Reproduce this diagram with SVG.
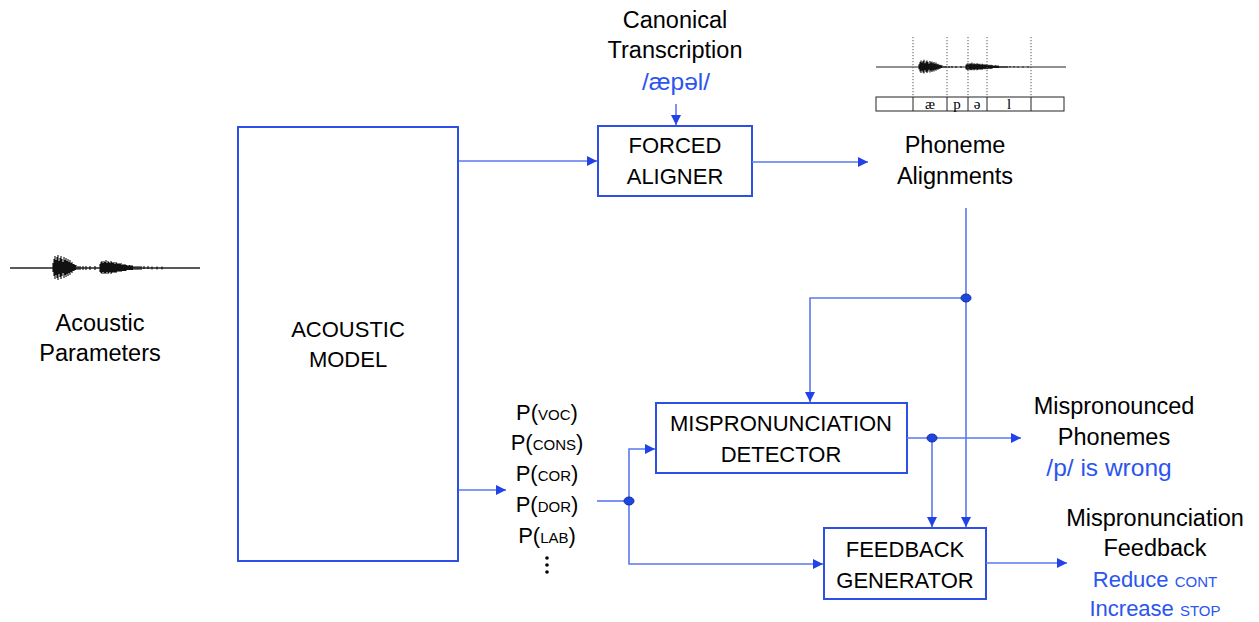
<svg xmlns="http://www.w3.org/2000/svg" xmlns:xlink="http://www.w3.org/1999/xlink" width="1259" height="622" viewBox="0 0 1259 622">
<style>
  .box{fill:#fff;stroke:#2d4fe6;stroke-width:2}
  .t{font-family:"Liberation Sans",Arial,sans-serif;font-size:22px;fill:#000;text-anchor:middle}
  .m{font-size:23.5px}
  .b{fill:#2a55ee}
  .bb{font-size:24.5px}
  .sc{font-size:15px}
  .c{fill:none;stroke:#5a78f0;stroke-width:1.6}
  .dot{fill:#1f45e0;stroke:#10309a;stroke-width:1}
  .wave{fill:none;stroke:#111;stroke-width:1.1}
  .cell{fill:#fff;stroke:#222;stroke-width:1}
  .dl{stroke:#555;stroke-width:1;stroke-dasharray:1.2 1.8}
  .ph{font-family:"Liberation Serif","Times New Roman",serif;font-size:15px;fill:#000;text-anchor:middle}
</style>
<defs>
  <marker id="ah" viewBox="0 0 10 10" refX="10" refY="5" markerWidth="11" markerHeight="10" markerUnits="userSpaceOnUse" orient="auto">
    <path d="M0 0 L10 5 L0 10 z" fill="#2142e8"/>
  </marker>
  <g id="wf">
    <path d="M10 0 H200" stroke="#222" stroke-width="1.6" fill="none"/>
    <path class="wave" d="M53 -5V4 M54 -9V8 M55 -12V11 M56 -8V7 M57 -11V10 M58 -13V12 M59 -7V6 M60 -10V9 M61 -12V11 M62 -9V8 M63 -6V5 M64 -11V10 M65 -8V7 M66 -10V9 M67 -7V6 M68 -9V8 M69 -6V5 M70 -8V7 M71 -5V4 M72 -6V5 M73 -4V3 M74 -4V3 M75 -3V2 M76 -3V2 M78 -2V2 M80 -2V2 M83 -2V2 M86 -2V2 M90 -2V2 M95 -2V2
    M100 -4V4 M101 -6V5 M102 -7V6 M103 -5V4 M104 -7V6 M105 -6V5 M106 -8V6 M107 -5V4 M108 -7V6 M109 -6V5 M110 -5V4 M111 -7V6 M112 -6V5 M113 -5V4 M114 -6V5 M115 -4V4 M116 -6V5 M117 -5V4 M118 -4V3 M119 -5V4 M120 -4V3 M121 -5V4 M122 -3V3 M123 -4V3 M124 -3V3 M125 -4V3 M126 -3V3 M127 -3V2 M128 -2V2 M129 -3V2 M130 -3V2 M131 -2V2 M132 -3V2 M133 -2V2 M135 -2V2 M137 -2V2 M139 -2V2 M141 -2V2 M144 -2V1 M148 -2V1 M152 -1.5V1.5 M157 -1.5V1.5 M162 -1.5V1.5"/>
  </g>
</defs>

<g id="acoustic-parameters">
  <use xlink:href="#wf" transform="translate(0,268)"/>
  <text class="t m" x="100" y="331">Acoustic</text>
  <text class="t m" x="100" y="361">Parameters</text>
</g>

<g id="acoustic-model">
  <rect class="box" x="238" y="127" width="220" height="434"/>
  <text class="t" x="348" y="337">ACOUSTIC</text>
  <text class="t" x="348" y="367">MODEL</text>
</g>

<g id="canonical-transcription">
  <text class="t m" x="675" y="28">Canonical</text>
  <text class="t m" x="675" y="58">Transcription</text>
  <text class="t b bb" x="676" y="90">/æpəl/</text>
</g>

<g id="forced-aligner">
  <rect class="box" x="598" y="126" width="154" height="70"/>
  <text class="t" x="675" y="153">FORCED</text>
  <text class="t" x="675" y="184">ALIGNER</text>
</g>

<g id="phoneme-alignments">
  <use xlink:href="#wf" transform="translate(866,67) scale(1,0.55)"/>
  <line class="dl" x1="913" y1="37" x2="913" y2="97"/>
  <line class="dl" x1="947" y1="37" x2="947" y2="97"/>
  <line class="dl" x1="968" y1="37" x2="968" y2="97"/>
  <line class="dl" x1="987" y1="37" x2="987" y2="97"/>
  <line class="dl" x1="1031" y1="37" x2="1031" y2="97"/>
  <rect class="cell" x="876" y="97" width="188" height="14"/>
  <path d="M913 97V111 M947 97V111 M968 97V111 M987 97V111 M1031 97V111" stroke="#222" stroke-width="1"/>
  <text class="ph" x="930" y="109">æ</text>
  <text class="ph" x="957" y="109">p</text>
  <text class="ph" x="977" y="109">ə</text>
  <text class="ph" x="1009" y="109">l</text>
  <text class="t m" x="955" y="153">Phoneme</text>
  <text class="t m" x="955" y="184">Alignments</text>
</g>

<g id="phonological-features">
  <text class="t" x="547" y="420">P(<tspan class="sc">VOC</tspan>)</text>
  <text class="t" x="547" y="450">P(<tspan class="sc">CONS</tspan>)</text>
  <text class="t" x="547" y="481">P(<tspan class="sc">COR</tspan>)</text>
  <text class="t" x="547" y="512">P(<tspan class="sc">DOR</tspan>)</text>
  <text class="t" x="547" y="543">P(<tspan class="sc">LAB</tspan>)</text>
  <circle cx="547" cy="558" r="1.8" fill="#000"/>
  <circle cx="547" cy="565" r="1.8" fill="#000"/>
  <circle cx="547" cy="572" r="1.8" fill="#000"/>
</g>

<g id="mispronunciation-detector">
  <rect class="box" x="656" y="403" width="251" height="70"/>
  <text class="t" x="781" y="431">MISPRONUNCIATION</text>
  <text class="t" x="781" y="462">DETECTOR</text>
</g>

<g id="mispronounced-phonemes">
  <text class="t m" x="1114" y="414">Mispronounced</text>
  <text class="t m" x="1114" y="445">Phonemes</text>
  <text class="t b bb" x="1109" y="476">/p/ is wrong</text>
</g>

<g id="feedback-generator">
  <rect class="box" x="824" y="528" width="162" height="71"/>
  <text class="t" x="905" y="557">FEEDBACK</text>
  <text class="t" x="905" y="588">GENERATOR</text>
</g>

<g id="mispronunciation-feedback">
  <text class="t m" x="1155" y="526">Mispronunciation</text>
  <text class="t m" x="1155" y="556">Feedback</text>
  <text class="t b" x="1155" y="587">Reduce <tspan class="sc">CONT</tspan></text>
  <text class="t b" x="1155" y="616">Increase <tspan class="sc">STOP</tspan></text>
</g>

<g id="connectors">
  <path class="c" d="M459 161 H597" marker-end="url(#ah)"/>
  <path class="c" d="M676 104 V125" marker-end="url(#ah)"/>
  <path class="c" d="M752 162 H868" marker-end="url(#ah)"/>
  <path class="c" d="M966 208 V527" marker-end="url(#ah)"/>
  <path class="c" d="M966 298 H810 V402" marker-end="url(#ah)"/>
  <path class="c" d="M907 438 H1021" marker-end="url(#ah)"/>
  <path class="c" d="M932 438 V527" marker-end="url(#ah)"/>
  <path class="c" d="M459 490 H506" marker-end="url(#ah)"/>
  <path class="c" d="M597 501 H629"/>
  <path class="c" d="M629 501 V449 H655" marker-end="url(#ah)"/>
  <path class="c" d="M629 501 V564 H823" marker-end="url(#ah)"/>
  <path class="c" d="M986 563 H1067" marker-end="url(#ah)"/>
  <ellipse class="dot" cx="966" cy="298" rx="5" ry="4"/>
  <ellipse class="dot" cx="932" cy="438" rx="5" ry="4"/>
  <ellipse class="dot" cx="629" cy="501" rx="5" ry="4"/>
</g>
</svg>
